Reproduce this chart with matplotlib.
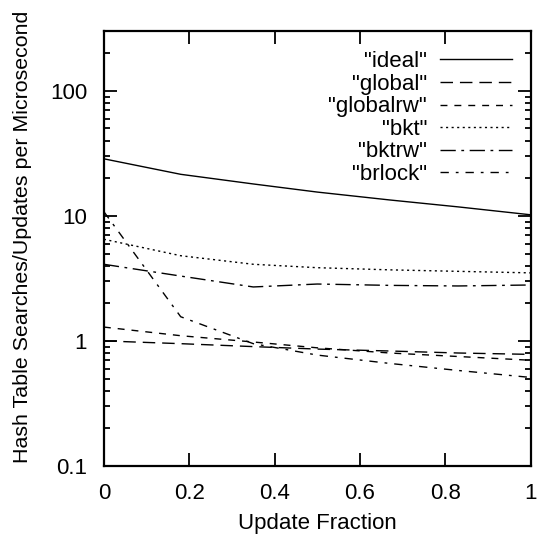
import matplotlib
matplotlib.use("Agg")
import matplotlib.pyplot as plt
from matplotlib.ticker import LogLocator, FixedLocator, NullFormatter

plt.rcParams['font.family'] = ['Liberation Sans', 'DejaVu Sans']

# update fraction sample points
x = [0.0, 0.18, 0.35, 0.5, 0.67, 0.83, 1.0]

ideal = [28.6, 21.5, 18.0, 15.5, 13.4, 11.8, 10.2]
glob = [1.0, 0.95, 0.9, 0.86, 0.83, 0.8, 0.78]
globalrw = [1.29, 1.1, 0.98, 0.88, 0.8, 0.75, 0.70]
bkt = [6.5, 4.8, 4.1, 3.85, 3.7, 3.6, 3.5]
bktrw = [4.1, 3.3, 2.7, 2.85, 2.78, 2.75, 2.8]
brlock = [10.8, 1.56, 0.95, 0.77, 0.66, 0.58, 0.51]

labels = ['"ideal"', '"global"', '"globalrw"', '"bkt"', '"bktrw"', '"brlock"']
styles = ['-', (0, (9, 5)), (0, (5, 5)), (0, (1.5, 2.5)), (0, (11, 4, 2, 4)), (0, (6, 5, 2, 5))]

fig = plt.figure(figsize=(5.41, 5.38), dpi=100)
ax = fig.add_axes([0.192, 0.134, 0.789, 0.808])

for ys, lab, ls in zip([ideal, glob, globalrw, bkt, bktrw, brlock], labels, styles):
    ax.plot(x, ys, color='black', linestyle=ls, linewidth=1.0, label=lab)

ax.set_yscale('log')
ax.set_xlim(0, 1)
ax.set_ylim(0.1, 300)
ax.set_xticks([0, 0.2, 0.4, 0.6, 0.8, 1])
ax.set_xticklabels(['0', '0.2', '0.4', '0.6', '0.8', '1'])
ax.yaxis.set_major_locator(FixedLocator([0.1, 1, 10, 100]))
ax.set_yticklabels(['0.1', '1', '10', '100'])
ax.yaxis.set_minor_locator(LogLocator(base=10, subs=range(2, 10)))
ax.yaxis.set_minor_formatter(NullFormatter())

ax.tick_params(which='both', direction='in', top=True, right=True, labelsize=16, width=1.3, pad=12)
ax.tick_params(which='major', length=9.5)
ax.tick_params(which='minor', length=4.5)
for s in ax.spines.values():
    s.set_linewidth(1.6)

ax.set_xlabel('Update Fraction', fontsize=16)
ax.xaxis.set_label_coords(0.5, -0.108)
ax.set_ylabel('Hash Table Searches/Updates per Microsecond', fontsize=15.4)
ax.yaxis.set_label_coords(-0.168, 0.526)

ax.legend(loc='upper right', frameon=False, markerfirst=False, fontsize=16,
          handlelength=3.2, handletextpad=0.6, labelspacing=0.07,
          borderaxespad=0, borderpad=0, bbox_to_anchor=(0.955, 0.954))

fig.savefig('out.png', dpi=100)
